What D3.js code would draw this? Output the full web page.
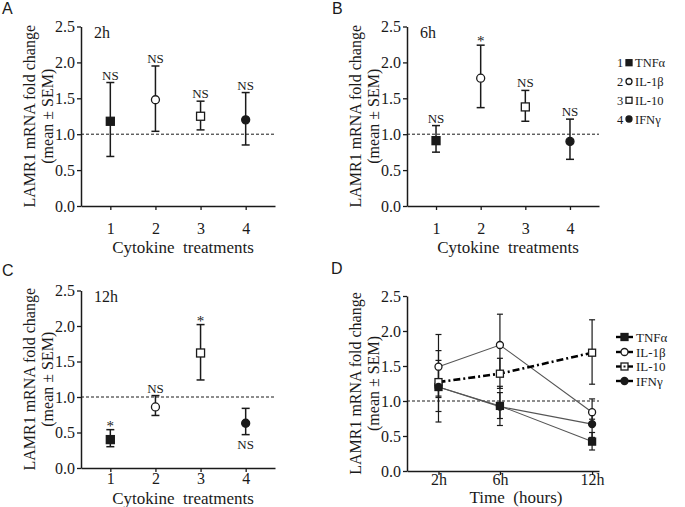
<!DOCTYPE html>
<html>
<head>
<meta charset="utf-8">
<script src="https://cdn.jsdelivr.net/npm/d3@7"></script>
<style>
  html, body { margin: 0; padding: 0; background: #fff; }
  svg { display: block; }
</style>
</head>
<body>
<svg id="chart" width="685" height="507"></svg>
<script>
// ---------------- DATA ----------------
const categories = [1, 2, 3, 4];
const cytokines = ["TNFα", "IL-1β", "IL-10", "IFNγ"];
const yTicks = [0, 0.5, 1.0, 1.5, 2.0, 2.5];

// Panel A (2h)
const mean2h = [1.18, 1.48, 1.25, 1.20];
const low2h  = [0.69, 1.04, 1.06, 0.85];
const high2h = [1.72, 1.95, 1.46, 1.58];
const sig2h  = ["NS", "NS", "NS", "NS"];

// Panel B (6h)
const mean6h = [0.91, 1.78, 1.38, 0.90];
const low6h  = [0.75, 1.37, 1.18, 0.65];
const high6h = [1.12, 2.24, 1.61, 1.21];
const sig6h  = ["NS", "*", "NS", "NS"];

// Panel C (12h)
const mean12h = [0.40, 0.86, 1.62, 0.63];
const low12h  = [0.30, 0.74, 1.24, 0.47];
const high12h = [0.54, 1.02, 2.02, 0.84];
const sig12h  = ["*", "NS", "*", "NS"];
const sigBelow12h = [false, false, false, true];

// Panel D (time course)
const timeHours  = [2, 6, 12];
const timeLabels = ["2h", "6h", "12h"];
const tnfMean  = [1.20, 0.93, 0.42];
const tnfLow   = [0.70, 0.75, 0.30];
const tnfHigh  = [1.72, 1.12, 0.55];
const il1bMean = [1.49, 1.80, 0.84];
const il1bLow  = [1.05, 1.37, 0.74];
const il1bHigh = [1.95, 2.24, 1.03];
const il10Mean = [1.27, 1.39, 1.69];
const il10Low  = [1.07, 1.18, 1.24];
const il10High = [1.47, 1.61, 2.16];
const ifngMean = [1.20, 0.92, 0.67];
const ifngLow  = [0.85, 0.65, 0.48];
const ifngHigh = [1.58, 1.21, 0.86];

// ---------------- DRAWING ----------------
const SERIF = "'Liberation Serif', 'Times New Roman', Times, serif";
const SANS = "'Liberation Sans', Arial, sans-serif";
const INK = "#1a1a1a";
const markerTypes = ["filledSquare", "openCircle", "openSquare", "filledCircle"];

const svg = d3.select("#chart");

function drawMarker(g, type, cx, cy, s, dot) {
  if (type === "filledSquare" || type === "openSquare") {
    g.append("rect").attr("x", cx - s / 2).attr("y", cy - s / 2)
      .attr("width", s).attr("height", s)
      .attr("fill", type === "filledSquare" ? INK : "#fff")
      .attr("stroke", INK).attr("stroke-width", 1.3);
    if (dot) g.append("rect").attr("x", cx - 1).attr("y", cy - 1).attr("width", 2).attr("height", 2).attr("fill", INK);
  } else {
    g.append("circle").attr("cx", cx).attr("cy", cy).attr("r", s / 2)
      .attr("fill", type === "filledCircle" ? INK : "#fff")
      .attr("stroke", INK).attr("stroke-width", 1.3);
  }
}

function drawYAxis(g, y, x0, yMid) {
  const ax = g.append("g").attr("transform", `translate(${x0},0)`)
    .call(d3.axisLeft(y).tickValues(yTicks).tickFormat(d3.format(".1f")).tickSize(4).tickSizeOuter(0).tickPadding(2));
  ax.select(".domain").attr("stroke", INK).attr("stroke-width", 1.5);
  ax.selectAll(".tick line").attr("stroke", INK).attr("stroke-width", 1.3);
  ax.selectAll(".tick text").attr("font-family", SERIF).attr("font-size", 16).attr("fill", INK);
  const t = g.append("g").attr("font-family", SERIF).attr("font-size", 16).attr("fill", INK).attr("text-anchor", "middle");
  t.append("text").attr("transform", `translate(${x0 - 46},${yMid}) rotate(-90)`).text("LAMR1 mRNA fold change");
  t.append("text").attr("transform", `translate(${x0 - 28},${yMid}) rotate(-90)`).text("(mean ± SEM)");
}

function drawXAxis(g, x, y0, values, labels, labelOff, title, titleX, titleOff) {
  const ax = g.append("g").attr("transform", `translate(0,${y0})`)
    .call(d3.axisBottom(x).tickValues(values).tickFormat((d, i) => labels[i]).tickSize(4).tickSizeOuter(0));
  ax.select(".domain").attr("stroke", INK).attr("stroke-width", 1.5);
  ax.selectAll(".tick line").attr("stroke", INK).attr("stroke-width", 1.3);
  ax.selectAll(".tick text").attr("font-family", SERIF).attr("font-size", 16).attr("fill", INK)
    .attr("y", labelOff).attr("dy", null);
  g.append("text").attr("x", titleX).attr("y", y0 + titleOff).attr("text-anchor", "middle")
    .attr("font-family", SERIF).attr("font-size", 17).attr("fill", INK)
    .style("white-space", "pre").text(title);
}

function refLine(g, x0, x1, yv) {
  g.append("line").attr("x1", x0).attr("x2", x1).attr("y1", yv).attr("y2", yv)
    .attr("stroke", INK).attr("stroke-width", 1).attr("stroke-dasharray", "3,2");
}

function errBar(g, cx, yLo, yHi, cap, w) {
  g.append("line").attr("x1", cx).attr("x2", cx).attr("y1", yLo).attr("y2", yHi).attr("stroke", INK).attr("stroke-width", w);
  g.append("line").attr("x1", cx - cap / 2).attr("x2", cx + cap / 2).attr("y1", yHi).attr("y2", yHi).attr("stroke", INK).attr("stroke-width", w);
  g.append("line").attr("x1", cx - cap / 2).attr("x2", cx + cap / 2).attr("y1", yLo).attr("y2", yLo).attr("stroke", INK).attr("stroke-width", w);
}

function panel(cfg) {
  const g = svg.append("g");
  const x = d3.scaleLinear().domain([0.35, 4.65]).range([cfg.x0, cfg.x1]);
  const y = d3.scaleLinear().domain([0, 2.5]).range([cfg.yBottom, cfg.yTop]);
  refLine(g, cfg.x0, cfg.x1, y(1));
  drawYAxis(g, y, cfg.x0, (cfg.yTop + cfg.yBottom) / 2);
  drawXAxis(g, x, cfg.yBottom, categories, categories.map(String), cfg.labelOff,
    "Cytokine  treatments", (cfg.x0 + cfg.x1) / 2 + 5, cfg.titleOff);
  categories.forEach((c, i) => {
    errBar(g, x(c), y(cfg.low[i]), y(cfg.high[i]), 8, 1.5);
    drawMarker(g, markerTypes[i], x(c), y(cfg.mean[i]), 8);
    const s = cfg.sig[i];
    const below = cfg.below && cfg.below[i];
    let ty;
    if (below) ty = y(cfg.low[i]) + 14;
    else ty = s === "*" ? y(cfg.high[i]) + 1 : y(cfg.high[i]) - 3;
    g.append("text").attr("x", x(c)).attr("y", ty).attr("text-anchor", "middle")
      .attr("font-family", SERIF).attr("font-size", s === "*" ? 15 : 13).attr("fill", INK).text(s);
  });
  g.append("text").attr("x", cfg.x0 + 13).attr("y", cfg.yTop + 11).attr("font-family", SERIF)
    .attr("font-size", 16).attr("fill", INK).text(cfg.time);
  g.append("text").attr("x", cfg.letterX).attr("y", cfg.letterY).attr("font-family", SANS)
    .attr("font-size", 16).attr("fill", INK).text(cfg.letter);
}

panel({ x0: 81, x1: 275, yTop: 26.5, yBottom: 206, labelOff: 28, titleOff: 47,
  mean: mean2h, low: low2h, high: high2h, sig: sig2h, time: "2h", letter: "A", letterX: 2, letterY: 14 });
panel({ x0: 407, x1: 599, yTop: 26.5, yBottom: 206, labelOff: 28, titleOff: 47,
  mean: mean6h, low: low6h, high: high6h, sig: sig6h, time: "6h", letter: "B", letterX: 332, letterY: 14 });
panel({ x0: 81, x1: 275, yTop: 290.5, yBottom: 468, labelOff: 16, titleOff: 36,
  mean: mean12h, low: low12h, high: high12h, sig: sig12h, below: sigBelow12h, time: "12h", letter: "C", letterX: 2, letterY: 276 });

// Legend for panels A-C
(function () {
  const g = svg.append("g").attr("font-family", SERIF).attr("font-size", 12.5).attr("fill", INK);
  const ys = [62.7, 81.5, 100.3, 119];
  cytokines.forEach((c, i) => {
    g.append("text").attr("x", 617).attr("y", ys[i] + 4.5).text(String(categories[i]));
    drawMarker(g, markerTypes[i], 629, ys[i], 6);
    g.append("text").attr("x", 635).attr("y", ys[i] + 4.5).text(c);
  });
})();

// Panel D
(function () {
  const x0 = 407, x1 = 599, yTop = 296, yBottom = 471;
  const g = svg.append("g");
  const x = d3.scaleLinear().domain([-0.05, 12.45]).range([x0, x1]);
  const y = d3.scaleLinear().domain([0, 2.5]).range([yBottom, yTop]);
  refLine(g, x0, x1, y(1));
  drawYAxis(g, y, x0, (yTop + yBottom) / 2);
  drawXAxis(g, x, yBottom, timeHours, timeLabels, 14, "Time  (hours)", 516, 32);

  const series = [
    { mean: tnfMean, low: tnfLow, high: tnfHigh },
    { mean: il1bMean, low: il1bLow, high: il1bHigh },
    { mean: il10Mean, low: il10Low, high: il10High },
    { mean: ifngMean, low: ifngLow, high: ifngHigh }
  ];
  const line = d3.line().x((d, i) => x(timeHours[i])).y(d => y(d));
  series.forEach((s, k) => {
    const p = g.append("path").attr("d", line(s.mean)).attr("fill", "none");
    if (k === 2) p.attr("stroke", "#000").attr("stroke-width", 2.6).attr("stroke-dasharray", "7,3,2,3");
    else p.attr("stroke", "#555").attr("stroke-width", 1.1);
  });
  series.forEach(s => {
    timeHours.forEach((t, i) => errBar(g, x(t), y(s.low[i]), y(s.high[i]), 6, 1.2));
  });
  series.forEach((s, k) => {
    timeHours.forEach((t, i) => drawMarker(g, markerTypes[k], x(t), y(s.mean[i]), 7));
  });
  g.append("text").attr("x", 331).attr("y", 274).attr("font-family", SANS)
    .attr("font-size", 16).attr("fill", INK).text("D");

  // legend
  const lg = svg.append("g").attr("font-family", SERIF).attr("font-size", 13).attr("fill", INK);
  const ys = [337, 352, 366.5, 381];
  cytokines.forEach((c, i) => {
    lg.append("line").attr("x1", 616).attr("x2", 633).attr("y1", ys[i]).attr("y2", ys[i])
      .attr("stroke", "#000").attr("stroke-width", 2.4);
    drawMarker(lg, markerTypes[i], 624.5, ys[i], 7, i === 2);
    lg.append("text").attr("x", 636).attr("y", ys[i] + 4.5).text(c);
  });
})();
</script>
</body>
</html>
